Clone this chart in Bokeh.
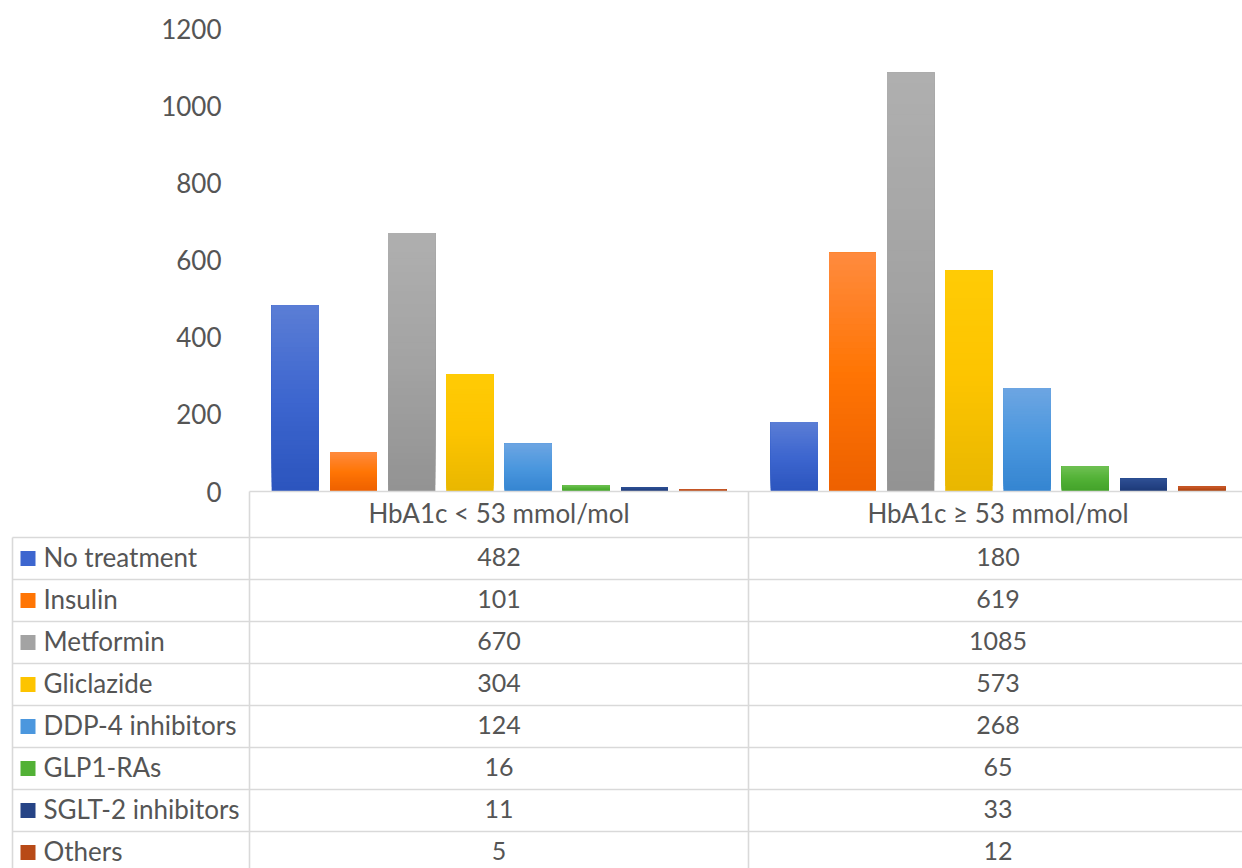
import numpy as np
from bokeh.plotting import figure
from bokeh.models import LinearAxis, FixedTicker, Range1d
from bokeh.core.properties import value
from bokeh.embed import file_html
from bokeh.resources import INLINE

# ---- data -------------------------------------------------------------
categories = ["HbA1c < 53 mmol/mol", "HbA1c \u2265 53 mmol/mol"]
treatments = ["No treatment", "Insulin", "Metformin", "Gliclazide",
              "DDP-4 inhibitors", "GLP1-RAs", "SGLT-2 inhibitors", "Others"]
hba1c_below_53 = [482, 101, 670, 304, 124, 16, 11, 5]
hba1c_at_or_above_53 = [180, 619, 1085, 573, 268, 65, 33, 12]
y_ticks = [0, 200, 400, 600, 800, 1000, 1200]

# ---- styles -----------------------------------------------------------
top_colors = ["#5A7DD5", "#FF8A3D", "#AFAFAF", "#FFCB05",
              "#6CA5E2", "#6EC052", "#2F5093", "#C75A2A"]
mid_colors = ["#3D66CF", "#FF7504", "#A3A3A3", "#FDC400",
              "#4B97DE", "#52B136", "#264486", "#B84A17"]
bottom_colors = ["#2C55BE", "#EE6100", "#939393", "#E9B700",
                 "#3585D1", "#43A22A", "#1D3A77", "#A4400E"]
TEXT = "#555555"
RULE = "#D9D9D9"
FONT = value("Lato")

# ---- layout (pixels) ---------------------------------------------------
W, H = 1242, 868
CAT_LEFT = 249        # left edge of first category column
CAT_W = 499           # width of one category column
ZERO_PX = 491         # baseline
TOP_PX = 28           # position of the top tick
Y_MAX = y_ticks[-1]
PPU = (ZERO_PX - TOP_PX) / Y_MAX
BAR_W_PX = 47
BAR_PITCH_PX = 58.2
TABLE_LEFT = 12
HEADER_BOTTOM = 537
ROW_H = 42
TEXT_LIFT = 2         # Lato sits a little low when middle-aligned


def xd(px):
    return (px - CAT_LEFT) / CAT_W


def yd(py):
    return (ZERO_PX - py) / PPU


p = figure(width=W, height=H, title=None, toolbar_location=None,
           output_backend="svg", x_axis_location=None, y_axis_location=None,
           x_range=Range1d(xd(0), xd(W)), y_range=Range1d(yd(H), yd(0)),
           min_border=0, min_border_left=0, min_border_right=0,
           min_border_top=0, min_border_bottom=0)
p.outline_line_color = None
p.background_fill_color = "white"
p.border_fill_color = "white"
p.xgrid.grid_line_color = None
p.ygrid.grid_line_color = None


def mix(c1, c2, t):
    a = np.array([int(c1[i:i + 2], 16) for i in (1, 3, 5)], float)
    b = np.array([int(c2[i:i + 2], 16) for i in (1, 3, 5)], float)
    r = np.round(a + (b - a) * t).astype(int)
    return "#%02x%02x%02x" % tuple(r)


# ---- bars ---------------------------------------------------------------
series = list(zip(hba1c_below_53, hba1c_at_or_above_53))
bar_w = BAR_W_PX / CAT_W
pitch = BAR_PITCH_PX / CAT_W
n_series = len(treatments)
N_STEPS = 40

for i, name in enumerate(treatments):
    xs = [j + 0.5 + (i - (n_series - 1) / 2) * pitch for j in range(len(categories))]
    tops = list(series[i])
    p.vbar(x=xs, top=tops, bottom=0, width=bar_w,
           fill_color=mid_colors[i], line_color=None)
    # vertical shading: each strip runs from its start to the bar top,
    # later strips paint over the upper part of earlier ones
    L, R, B, T, C = [], [], [], [], []
    for x, v in zip(xs, tops):
        for k in range(N_STEPS):
            t = k / (N_STEPS - 1)
            if t < 0.5:
                col = mix(bottom_colors[i], mid_colors[i], t / 0.5)
            else:
                col = mix(mid_colors[i], top_colors[i], (t - 0.5) / 0.5)
            L.append(x - bar_w / 2)
            R.append(x + bar_w / 2)
            B.append(v * k / N_STEPS)
            T.append(v)
            C.append(col)
    p.quad(left=L, right=R, bottom=B, top=T, fill_color=C, line_color=None)

# ---- value axis -----------------------------------------------------------
yaxis = LinearAxis(fixed_location=0, ticker=FixedTicker(ticks=y_ticks))
yaxis.axis_line_color = None
yaxis.major_tick_line_color = None
yaxis.minor_tick_line_color = None
yaxis.major_tick_in = 0
yaxis.major_tick_out = 0
yaxis.major_label_standoff = 28
yaxis.major_label_text_font = "Lato"
yaxis.major_label_text_font_size = "26px"
yaxis.major_label_text_color = TEXT
p.add_layout(yaxis, "left")

# ---- data table -----------------------------------------------------------
row_lines = [HEADER_BOTTOM + ROW_H * k for k in range(len(treatments))]
hx0 = [xd(CAT_LEFT)] + [xd(TABLE_LEFT)] * len(row_lines)
hy = [yd(ZERO_PX)] + [yd(r) for r in row_lines]
p.segment(x0=hx0, x1=[xd(W + 10)] * len(hx0), y0=hy, y1=hy,
          line_color=RULE, line_width=1.6)
vx = [xd(TABLE_LEFT), xd(CAT_LEFT), xd(CAT_LEFT + CAT_W)]
vy0 = [yd(HEADER_BOTTOM), yd(ZERO_PX), yd(ZERO_PX)]
p.segment(x0=vx, x1=vx, y0=vy0, y1=[yd(H + 10)] * 3,
          line_color=RULE, line_width=1.6)

# column headers
p.text(x=[j + 0.5 for j in range(len(categories))],
       y=[yd((ZERO_PX + HEADER_BOTTOM) / 2 - TEXT_LIFT)] * len(categories),
       text=categories, text_font=FONT, text_font_size="26px",
       text_color=TEXT, text_align="center", text_baseline="middle")

row_centers_px = [HEADER_BOTTOM + ROW_H * (k + 0.5) for k in range(len(treatments))]
row_centers = [yd(c) for c in row_centers_px]
row_text_y = [yd(c - TEXT_LIFT) for c in row_centers_px]

# series names with colour keys
p.scatter(x=[xd(27.5)] * len(treatments), y=row_centers, marker="square",
          size=15, fill_color=mid_colors, line_color=None)
p.text(x=[xd(43)] * len(treatments), y=row_text_y, text=treatments,
       text_font=FONT, text_font_size="26px", text_color=TEXT,
       text_align="left", text_baseline="middle")

# values
for j, col in enumerate([hba1c_below_53, hba1c_at_or_above_53]):
    p.text(x=[j + 0.5] * len(col), y=row_text_y, text=[str(v) for v in col],
           text_font=FONT, text_font_size="25px", text_color=TEXT,
           text_align="center", text_baseline="middle")

open("out.html", "w").write(file_html(p, INLINE))
